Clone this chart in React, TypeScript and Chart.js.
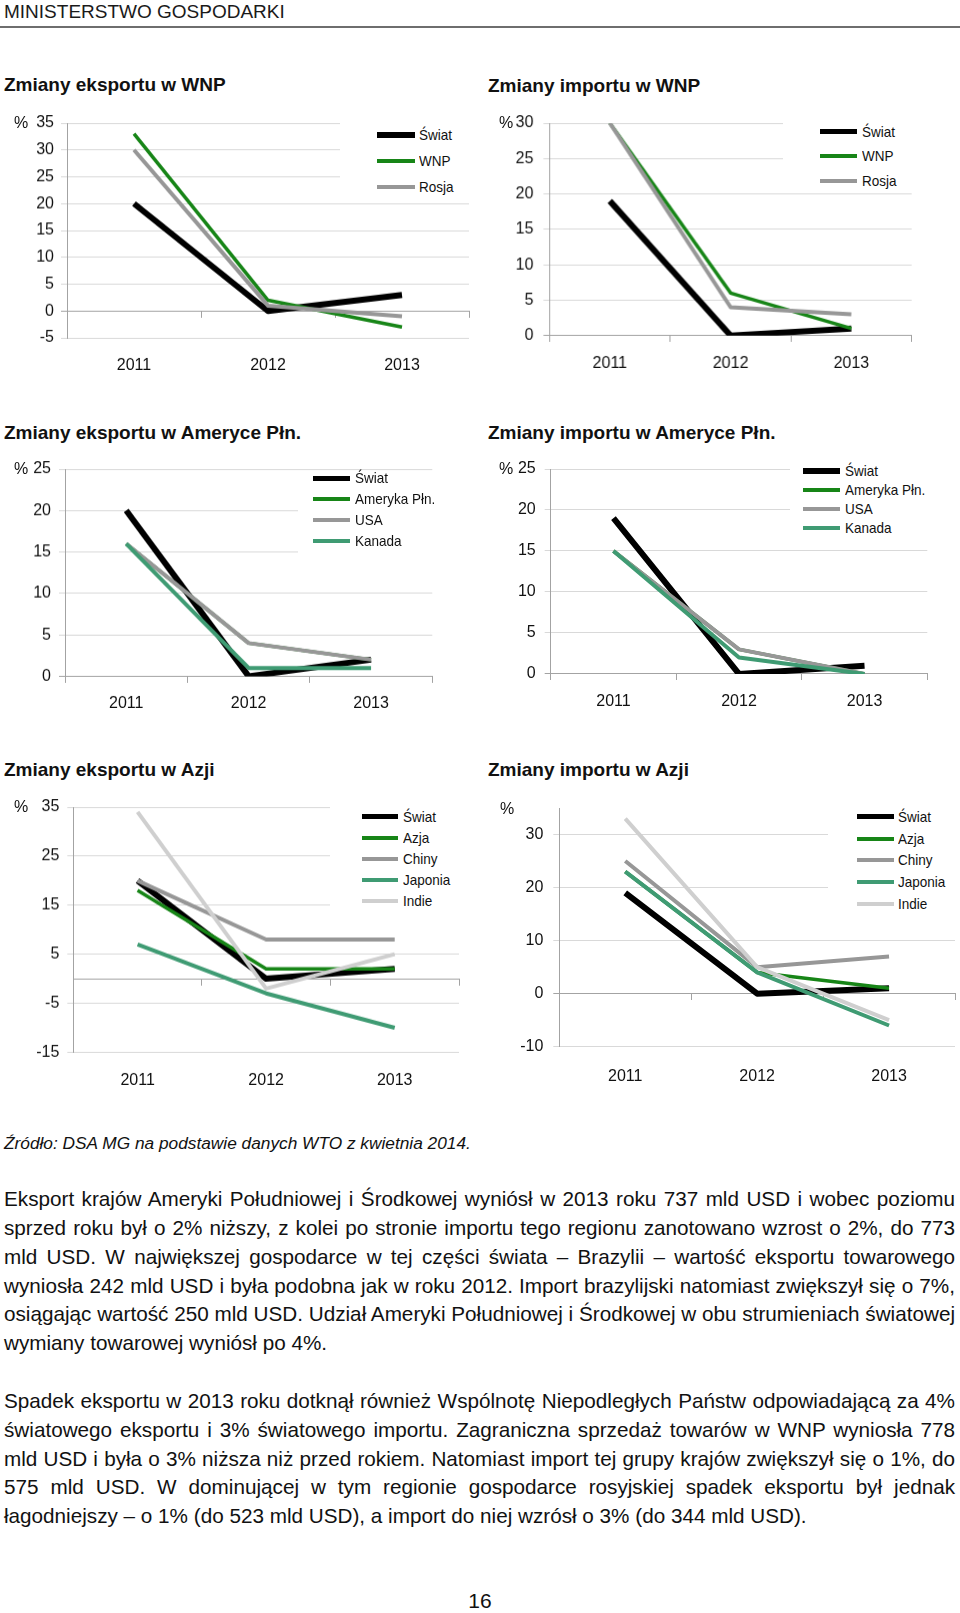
import React, { useEffect, useRef } from 'react';
import { Chart, registerables } from 'chart.js';

Chart.register(...registerables);

// ---------- data ----------
const YEARS = ['2011', '2012', '2013'];

// Zmiany eksportu w WNP
const WNP_EXP_SWIAT = [20, 0, 3];
const WNP_EXP_WNP = [33, 2, -3];
const WNP_EXP_ROSJA = [30, 1, -1];
// Zmiany importu w WNP
const WNP_IMP_SWIAT = [19, 0, 1];
const WNP_IMP_WNP = [30, 6, 1];
const WNP_IMP_ROSJA = [30, 4, 3];
// Zmiany eksportu w Ameryce Płn.
const AM_EXP_SWIAT = [20, 0, 2];
const AM_EXP_AMERYKA = [16, 4, 2];
const AM_EXP_USA = [16, 4, 2];
const AM_EXP_KANADA = [16, 1, 1];
// Zmiany importu w Ameryce Płn.
const AM_IMP_SWIAT = [19, 0, 1];
const AM_IMP_AMERYKA = [15, 3, 0];
const AM_IMP_USA = [15, 3, 0];
const AM_IMP_KANADA = [15, 2, 0];
// Zmiany eksportu w Azji
const AZ_EXP_SWIAT = [20, 0, 2];
const AZ_EXP_AZJA = [18, 2, 2];
const AZ_EXP_CHINY = [20, 8, 8];
const AZ_EXP_JAPONIA = [7, -3, -10];
const AZ_EXP_INDIE = [34, -2, 5];
// Zmiany importu w Azji
const AZ_IMP_SWIAT = [19, 0, 1];
const AZ_IMP_AZJA = [23, 4, 1];
const AZ_IMP_CHINY = [25, 5, 7];
const AZ_IMP_JAPONIA = [23, 4, -6];
const AZ_IMP_INDIE = [33, 5, -5];

// ---------- styles ----------
const FONT = "'Liberation Sans', Arial, Helvetica, sans-serif";
const TEXT = '#111111';
const TICK_SIZE = 16;
const GRID = '#d9d9d9';
const AXIS = '#a3a3a3';
const C_WORLD = '#000000';
const C_REGION = '#178517';
const C_GRAY = '#979797';
const C_TEAL = '#3f9b73';
const C_LIGHT = '#cfcfcf';

type Series = { label: string; data: number[]; color: string; width: number; lw: number };
type Spec = {
  title: string; titleX: number; titleY: number;
  canvasLeft: number; L: number; R: number; T: number; B: number; labelY: number;
  yMin: number; yMax: number; yStep: number; tickPad: number;
  pctX: number; pctY: number;
  legend: { x: number; y: number; w: number; h: number; sw1: number; sw2: number; tx: number; row0: number; gap: number };
  series: Series[];
};

const world = (d: number[]): Series => ({ label: 'Świat', data: d, color: C_WORLD, width: 6, lw: 5.5 });

const SPECS: Spec[] = [
  {
    title: 'Zmiany eksportu w WNP', titleX: 4, titleY: 85,
    canvasLeft: 0, L: 67, R: 470, T: 123.3, B: 337.3, labelY: 365,
    yMin: -5, yMax: 35, yStep: 5, tickPad: 7, pctX: 14, pctY: 123.3,
    legend: { x: 340, y: 113, w: 130, h: 85, sw1: 377, sw2: 415, tx: 419, row0: 135, gap: 25.8 },
    series: [
      world(WNP_EXP_SWIAT),
      { label: 'WNP', data: WNP_EXP_WNP, color: C_REGION, width: 3.5, lw: 4 },
      { label: 'Rosja', data: WNP_EXP_ROSJA, color: C_GRAY, width: 4, lw: 4 },
    ],
  },
  {
    title: 'Zmiany importu w WNP', titleX: 488, titleY: 86,
    canvasLeft: 480, L: 549.3, R: 911.7, T: 123.3, B: 335, labelY: 363.3,
    yMin: 0, yMax: 30, yStep: 5, tickPad: 10, pctX: 499, pctY: 123.3,
    legend: { x: 783, y: 113, w: 129, h: 78, sw1: 820, sw2: 857, tx: 862, row0: 131.7, gap: 24.7 },
    series: [
      world(WNP_IMP_SWIAT),
      { label: 'WNP', data: WNP_IMP_WNP, color: C_REGION, width: 3.5, lw: 4 },
      { label: 'Rosja', data: WNP_IMP_ROSJA, color: C_GRAY, width: 4, lw: 4 },
    ],
  },
  {
    title: 'Zmiany eksportu w Ameryce Płn.', titleX: 4, titleY: 433,
    canvasLeft: 0, L: 65, R: 433.3, T: 469.3, B: 675.7, labelY: 703.3,
    yMin: 0, yMax: 25, yStep: 5, tickPad: 8, pctX: 14, pctY: 469.3,
    legend: { x: 298, y: 472, w: 136, h: 92, sw1: 313, sw2: 350, tx: 355, row0: 478.3, gap: 20.9 },
    series: [
      world(AM_EXP_SWIAT),
      { label: 'Ameryka Płn.', data: AM_EXP_AMERYKA, color: C_REGION, width: 3.5, lw: 3.5 },
      { label: 'USA', data: AM_EXP_USA, color: C_GRAY, width: 4, lw: 4 },
      { label: 'Kanada', data: AM_EXP_KANADA, color: C_TEAL, width: 4, lw: 4 },
    ],
  },
  {
    title: 'Zmiany importu w Ameryce Płn.', titleX: 488, titleY: 433,
    canvasLeft: 480, L: 550.7, R: 928.3, T: 469.3, B: 674.3, labelY: 701.7,
    yMin: 0, yMax: 25, yStep: 5, tickPad: 9, pctX: 499, pctY: 469.3,
    legend: { x: 790, y: 461, w: 139, h: 80, sw1: 803, sw2: 840, tx: 845, row0: 471, gap: 18.9 },
    series: [
      world(AM_IMP_SWIAT),
      { label: 'Ameryka Płn.', data: AM_IMP_AMERYKA, color: C_REGION, width: 3.5, lw: 3.5 },
      { label: 'USA', data: AM_IMP_USA, color: C_GRAY, width: 4, lw: 4 },
      { label: 'Kanada', data: AM_IMP_KANADA, color: C_TEAL, width: 4, lw: 4 },
    ],
  },
  {
    title: 'Zmiany eksportu w Azji', titleX: 4, titleY: 770,
    canvasLeft: 0, L: 73.3, R: 460, T: 807.3, B: 1051.7, labelY: 1080,
    yMin: -15, yMax: 35, yStep: 10, tickPad: 8, pctX: 14, pctY: 807.3,
    legend: { x: 330, y: 800, w: 131, h: 130, sw1: 361.7, sw2: 398.3, tx: 403.3, row0: 816.7, gap: 21 },
    series: [
      world(AZ_EXP_SWIAT),
      { label: 'Azja', data: AZ_EXP_AZJA, color: C_REGION, width: 3.5, lw: 4 },
      { label: 'Chiny', data: AZ_EXP_CHINY, color: C_GRAY, width: 4, lw: 4 },
      { label: 'Japonia', data: AZ_EXP_JAPONIA, color: C_TEAL, width: 4, lw: 4 },
      { label: 'Indie', data: AZ_EXP_INDIE, color: C_LIGHT, width: 4, lw: 4 },
    ],
  },
  {
    title: 'Zmiany importu w Azji', titleX: 488, titleY: 770,
    canvasLeft: 480, L: 559.3, R: 956, T: 808, B: 1046.7, labelY: 1076.7,
    yMin: -10, yMax: 35, yStep: 10, tickPad: 10, pctX: 500, pctY: 809,
    legend: { x: 828, y: 800, w: 128, h: 128, sw1: 857.3, sw2: 894, tx: 898.3, row0: 816.7, gap: 21.8 },
    series: [
      world(AZ_IMP_SWIAT),
      { label: 'Azja', data: AZ_IMP_AZJA, color: C_REGION, width: 3.5, lw: 4 },
      { label: 'Chiny', data: AZ_IMP_CHINY, color: C_GRAY, width: 4, lw: 4 },
      { label: 'Japonia', data: AZ_IMP_JAPONIA, color: C_TEAL, width: 4, lw: 4 },
      { label: 'Indie', data: AZ_IMP_INDIE, color: C_LIGHT, width: 4, lw: 4 },
    ],
  },
];

const PARA1 = [
  'Eksport krajów Ameryki Południowej i Środkowej wyniósł w 2013 roku 737 mld USD i wobec poziomu',
  'sprzed roku był o 2% niższy, z kolei po stronie importu tego regionu zanotowano wzrost o 2%, do 773',
  'mld USD. W największej gospodarce w tej części świata – Brazylii – wartość eksportu towarowego',
  'wyniosła 242 mld USD i była podobna jak w roku 2012. Import brazylijski natomiast zwiększył się o 7%,',
  'osiągając wartość 250 mld USD. Udział Ameryki Południowej i Środkowej w obu strumieniach światowej',
  'wymiany towarowej wyniósł po 4%.',
];
const PARA2 = [
  'Spadek eksportu w 2013 roku dotknął również Wspólnotę Niepodległych Państw odpowiadającą za 4%',
  'światowego eksportu i 3% światowego importu. Zagraniczna sprzedaż towarów w WNP wyniosła 778',
  'mld USD i była o 3% niższa niż przed rokiem. Natomiast import tej grupy krajów zwiększył się o 1%, do',
  '575 mld USD. W dominującej w tym regionie gospodarce rosyjskiej spadek eksportu był jednak',
  'łagodniejszy – o 1% (do 523 mld USD), a import do niej wzrósł o 3% (do 344 mld USD).',
];

function LineChartBlock({ spec }: { spec: Spec }) {
  const ref = useRef<HTMLCanvasElement | null>(null);
  const padTop = 20;
  const padRight = 2;
  const top = spec.T - padTop;
  const yAxisW = spec.L - spec.canvasLeft;
  const width = spec.R + padRight - spec.canvasLeft;
  const lineH = TICK_SIZE * 1.2;
  const xPad = spec.labelY - spec.B - lineH / 2;
  const xAxisH = xPad + lineH + 6;
  const height = spec.B - top + xAxisH;

  useEffect(() => {
    if (!ref.current) return;
    const chart = new Chart(ref.current, {
      type: 'line',
      data: {
        labels: YEARS,
        datasets: spec.series.map((s, i) => ({
          label: s.label,
          data: s.data,
          borderColor: s.color,
          backgroundColor: s.color,
          borderWidth: s.width,
          pointRadius: 0,
          pointHoverRadius: 0,
          tension: 0,
          fill: false,
          order: -i,
          borderJoinStyle: 'round' as const,
          borderCapStyle: 'butt' as const,
          xAxisID: 'x',
          yAxisID: 'y',
        })),
      },
      options: {
        responsive: true,
        maintainAspectRatio: false,
        animation: false,
        events: [],
        layout: { padding: { top: padTop, right: padRight, left: 0, bottom: 0 } },
        plugins: { legend: { display: false }, tooltip: { enabled: false }, title: { display: false } },
        scales: {
          x: {
            type: 'category',
            position: 'bottom',
            offset: true,
            grid: { display: false, drawTicks: false },
            border: { display: false },
            ticks: { padding: xPad, color: TEXT, font: { family: FONT, size: TICK_SIZE }, maxRotation: 0, autoSkip: false },
            afterFit: (s: any) => { s.height = xAxisH; },
          },
          x2: {
            type: 'category',
            axis: 'x',
            position: { y: 0 },
            offset: true,
            grid: { display: true, offset: true, drawOnChartArea: false, drawTicks: true, tickLength: 6, color: AXIS, lineWidth: 1 },
            border: { display: true, color: AXIS, width: 1 },
            ticks: { display: false },
            afterFit: (s: any) => { s.height = 0; },
          },
          y: {
            type: 'linear',
            position: 'left',
            min: spec.yMin,
            max: spec.yMax,
            ticks: {
              stepSize: spec.yStep,
              includeBounds: false,
              padding: spec.tickPad,
              color: TEXT,
              font: { family: FONT, size: TICK_SIZE },
            },
            grid: {
              color: (ctx: any) => (ctx.tick && ctx.tick.value === 0 ? AXIS : GRID),
              tickLength: 6,
              lineWidth: 1,
            },
            border: { display: true, color: AXIS, width: 1 },
            afterFit: (s: any) => { s.width = yAxisW; },
          },
        } as any,
      },
    } as any);
    return () => chart.destroy();
  }, []);

  const lg = spec.legend;
  return (
    <>
      <div style={{ position: 'absolute', left: spec.titleX, top: spec.titleY - 12, height: 24, lineHeight: '24px', fontSize: 19, fontWeight: 'bold', whiteSpace: 'nowrap', color: TEXT }}>
        {spec.title}
      </div>
      <div style={{ position: 'absolute', left: spec.canvasLeft, top, width, height }}>
        <canvas ref={ref} />
      </div>
      <div style={{ position: 'absolute', left: spec.pctX, top: spec.pctY - 10, height: 20, lineHeight: '20px', fontSize: TICK_SIZE, color: TEXT }}>%</div>
      <div style={{ position: 'absolute', left: lg.x, top: lg.y, width: lg.w, height: lg.h, background: '#ffffff' }} />
      {spec.series.map((s, i) => {
        const cy = lg.row0 + i * lg.gap;
        return (
          <React.Fragment key={i}>
            <div style={{ position: 'absolute', left: lg.sw1, top: cy - s.lw / 2, width: lg.sw2 - lg.sw1, height: s.lw, background: s.color }} />
            <div style={{ position: 'absolute', left: lg.tx, top: cy - 10, height: 20, lineHeight: '20px', fontSize: 15, whiteSpace: 'nowrap', color: TEXT, transform: 'scaleX(0.9)', transformOrigin: 'left center' }}>
              {s.label}
            </div>
          </React.Fragment>
        );
      })}
    </>
  );
}

const BODY_SIZE = 20.7;
const BODY_LH = 28.8;

function Paragraph({ lines, top }: { lines: string[]; top: number }) {
  return (
    <div style={{ position: 'absolute', left: 4, top, width: 951, fontSize: BODY_SIZE, lineHeight: BODY_LH + 'px', color: TEXT }}>
      {lines.map((l, i) => {
        const last = i === lines.length - 1;
        return (
          <div
            key={i}
            style={{
              whiteSpace: 'nowrap',
              textAlign: last ? 'left' : 'justify',
              textAlignLast: last ? 'left' : 'justify',
              wordSpacing: last ? 'normal' : '-2px',
            } as any}
          >
            {l}
          </div>
        );
      })}
    </div>
  );
}

export default function App() {
  return (
    <div style={{ position: 'absolute', left: 0, top: 0, width: 960, height: 1613, overflow: 'hidden', background: '#ffffff', fontFamily: FONT, color: TEXT }}>
      <div style={{ position: 'absolute', left: 4, top: 1, height: 22, lineHeight: '22px', fontSize: 19, whiteSpace: 'nowrap', color: '#1a1a1a' }}>
        MINISTERSTWO GOSPODARKI
      </div>
      <div style={{ position: 'absolute', left: 0, top: 25.7, width: 960, height: 2, background: '#6e6e6e' }} />
      {SPECS.map((s, i) => (
        <LineChartBlock key={i} spec={s} />
      ))}
      <div style={{ position: 'absolute', left: 4, top: 1131, height: 24, lineHeight: '24px', fontSize: 17.3, fontStyle: 'italic', whiteSpace: 'nowrap' }}>
        Źródło: DSA MG na podstawie danych WTO z kwietnia 2014.
      </div>
      <Paragraph lines={PARA1} top={1199.7 - BODY_LH / 2} />
      <Paragraph lines={PARA2} top={1401.4 - BODY_LH / 2} />
      <div style={{ position: 'absolute', left: 430, width: 100, textAlign: 'center', top: 1589, height: 24, lineHeight: '24px', fontSize: 21 }}>16</div>
    </div>
  );
}
